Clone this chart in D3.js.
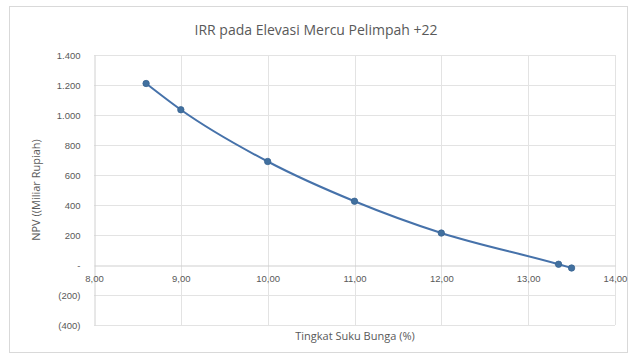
<!DOCTYPE html>
<html>
<head>
<meta charset="utf-8">
<script src="https://cdn.jsdelivr.net/npm/d3@7/dist/d3.min.js"></script>
<style>
  html, body { margin: 0; padding: 0; background: #ffffff; }
  svg { display: block; font-family: "Open Sans", "Liberation Sans", sans-serif; }
</style>
</head>
<body>
<svg id="chart" width="633" height="357"></svg>
<script>
// NPV at each interest rate (rate in %, NPV in billion Rupiah)
const rates = [8.6, 9.0, 10.0, 11.0, 12.0, 13.35, 13.5];
const npv = [1210, 1035, 690, 425, 213, 5, -20];

const xTicks = [8, 9, 10, 11, 12, 13, 14];
const yTicks = [-400, -200, 0, 200, 400, 600, 800, 1000, 1200, 1400];

const titleText = "IRR pada Elevasi Mercu Pelimpah +22";
const xTitle = "Tingkat Suku Bunga (%)";
const yTitle = "NPV ((Miliar Rupiah)";

const svg = d3.select("#chart");
const m = { left: 94 };

// chart frame
svg.append("rect")
  .attr("x", 9.5).attr("y", 6.5)
  .attr("width", 618).attr("height", 346)
  .attr("fill", "#fff").attr("stroke", "#d9d9d9");

const x = d3.scaleLinear().domain([8, 14]).range([m.left, 615]);
const y = d3.scaleLinear().domain([-400, 1400]).range([325, 55]);

const thousands = v => d3.format(",")(v).replace(/,/g, ".");
const fmtY = v => v === 0 ? "-" : (v < 0 ? "(" + thousands(-v) + ")" : thousands(v));
const fmtX = v => v.toFixed(2).replace(".", ",");

// horizontal gridlines
svg.append("g")
  .selectAll("line").data(yTicks.filter(v => v !== 0)).join("line")
  .attr("x1", x(8)).attr("x2", x(14))
  .attr("y1", d => Math.round(y(d)) + 0.5).attr("y2", d => Math.round(y(d)) + 0.5)
  .attr("stroke", "#e3e3e3").attr("stroke-width", 1);

// vertical gridlines
svg.append("g")
  .selectAll("line").data(xTicks.filter(v => v !== 8)).join("line")
  .attr("x1", d => Math.round(x(d)) + 0.5).attr("x2", d => Math.round(x(d)) + 0.5)
  .attr("y1", y(1400)).attr("y2", y(-400))
  .attr("stroke", "#e3e3e3").attr("stroke-width", 1);

// value axis (left)
const yAxis = d3.axisLeft(y).tickValues(yTicks).tickSize(0).tickPadding(14).tickFormat(fmtY);
const gy = svg.append("g").attr("transform", `translate(${Math.round(x(8)) + 0.5},0)`).call(yAxis);
gy.select(".domain").attr("stroke", "#d0d0d0");
gy.selectAll("text").attr("fill", "#595959").style("font-size", "9.5px");

// category axis crossing at zero
const xAxis = d3.axisBottom(x).tickValues(xTicks).tickSize(0).tickPadding(10).tickFormat(fmtX);
const gx = svg.append("g").attr("transform", `translate(0,${Math.round(y(0)) + 0.5})`).call(xAxis);
gx.select(".domain").attr("stroke", "#cfcfcf");
gx.selectAll("text").attr("fill", "#595959").style("font-size", "9.5px");

// titles
svg.append("text").attr("x", 316).attr("y", 35).attr("text-anchor", "middle")
  .attr("fill", "#595959").style("font-size", "14px").text(titleText);
svg.append("text").attr("x", 355).attr("y", 340).attr("text-anchor", "middle")
  .attr("fill", "#595959").style("font-size", "11px").text(xTitle);
svg.append("text").attr("transform", "translate(40,190) rotate(-90)").attr("text-anchor", "middle")
  .attr("fill", "#595959").style("font-size", "11px").text(yTitle);

// smoothed series line
const pts = rates.map((r, i) => [r, npv[i]]);
const line = d3.line().x(d => x(d[0])).y(d => y(d[1])).curve(d3.curveMonotoneX);
svg.append("path").datum(pts).attr("d", line)
  .attr("fill", "none").attr("stroke", "#4672aa").attr("stroke-width", 2);

// markers
svg.append("g").selectAll("circle").data(pts).join("circle")
  .attr("cx", d => x(d[0])).attr("cy", d => y(d[1])).attr("r", 3.2)
  .attr("fill", "#41709f").attr("stroke", "#3a6592").attr("stroke-width", 0.8);
</script>
</body>
</html>
